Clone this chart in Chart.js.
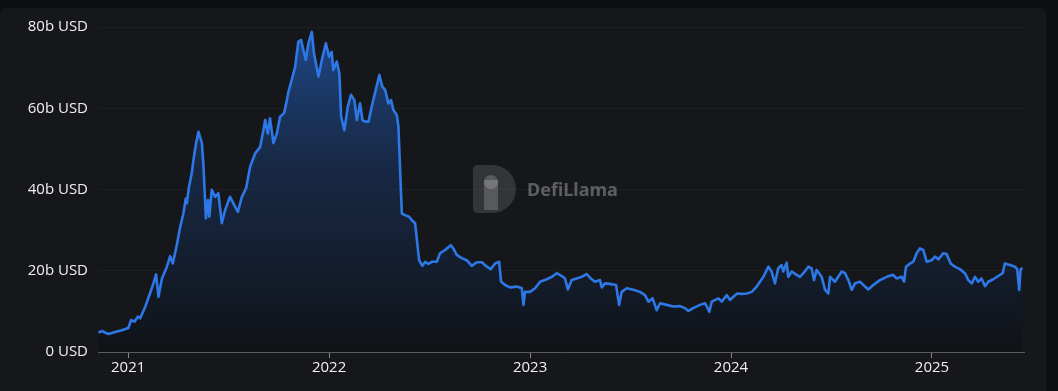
<!DOCTYPE html>
<html>
<head>
<meta charset="utf-8">
<script src="https://cdn.jsdelivr.net/npm/chart.js@4"></script>
<style>
  html, body { margin: 0; padding: 0; background: #0e0f11; overflow: hidden; }
  #card { position: absolute; left: 0; top: 8px; width: 1046px; height: 383px; background: #16171a; border-radius: 6px 6px 0 0; }
  #wrap { position: absolute; left: 0; top: 0; width: 1058px; height: 391px; }
</style>
</head>
<body>
<div id="card"></div>
<div id="wrap"><canvas id="tvlChart" width="1058" height="391"></canvas></div>
<script>
// dates as decimal years, values in billions USD
const dates = [
  2020.852, 2020.869, 2020.886, 2020.902, 2020.935, 2020.969, 2021.001, 2021.015, 2021.031, 2021.048,
  2021.060, 2021.085, 2021.109, 2021.126, 2021.139, 2021.151, 2021.168, 2021.193, 2021.209, 2021.222,
  2021.242, 2021.259, 2021.275, 2021.287, 2021.292, 2021.303, 2021.317, 2021.325, 2021.338, 2021.350,
  2021.367, 2021.375, 2021.387, 2021.397, 2021.404, 2021.416, 2021.433, 2021.449, 2021.466, 2021.483,
  2021.507, 2021.532, 2021.546, 2021.566, 2021.587, 2021.607, 2021.632, 2021.657, 2021.670, 2021.682,
  2021.695, 2021.706, 2021.723, 2021.740, 2021.756, 2021.776, 2021.790, 2021.798, 2021.814, 2021.831,
  2021.847, 2021.861, 2021.872, 2021.884, 2021.897, 2021.914, 2021.925, 2021.947, 2021.964, 2021.984,
  2022.000, 2022.013, 2022.021, 2022.038, 2022.051, 2022.060, 2022.076, 2022.093, 2022.109, 2022.126,
  2022.138, 2022.154, 2022.166, 2022.179, 2022.196, 2022.212, 2022.232, 2022.250, 2022.265, 2022.279,
  2022.295, 2022.308, 2022.320, 2022.337, 2022.345, 2022.362, 2022.378, 2022.398, 2022.411, 2022.428,
  2022.448, 2022.464, 2022.478, 2022.494, 2022.511, 2022.536, 2022.552, 2022.577, 2022.606, 2022.618,
  2022.635, 2022.660, 2022.685, 2022.710, 2022.735, 2022.760, 2022.785, 2022.804, 2022.826, 2022.846,
  2022.856, 2022.876, 2022.900, 2022.934, 2022.959, 2022.967, 2022.975, 2023.000, 2023.025, 2023.050,
  2023.083, 2023.108, 2023.133, 2023.158, 2023.174, 2023.188, 2023.207, 2023.232, 2023.257, 2023.282,
  2023.302, 2023.323, 2023.348, 2023.357, 2023.373, 2023.406, 2023.428, 2023.443, 2023.456, 2023.481,
  2023.514, 2023.547, 2023.572, 2023.589, 2023.610, 2023.630, 2023.647, 2023.680, 2023.713, 2023.746,
  2023.771, 2023.788, 2023.812, 2023.846, 2023.871, 2023.892, 2023.904, 2023.937, 2023.954, 2023.979,
  2023.995, 2024.012, 2024.031, 2024.053, 2024.078, 2024.103, 2024.128, 2024.161, 2024.186, 2024.202,
  2024.219, 2024.235, 2024.252, 2024.260, 2024.277, 2024.285, 2024.302, 2024.327, 2024.343, 2024.360,
  2024.385, 2024.401, 2024.413, 2024.426, 2024.451, 2024.468, 2024.484, 2024.493, 2024.517, 2024.551,
  2024.567, 2024.584, 2024.601, 2024.617, 2024.642, 2024.667, 2024.683, 2024.708, 2024.741, 2024.775,
  2024.807, 2024.824, 2024.849, 2024.861, 2024.871, 2024.891, 2024.907, 2024.924, 2024.940, 2024.957,
  2024.974, 2024.999, 2025.015, 2025.032, 2025.056, 2025.073, 2025.093, 2025.114, 2025.139, 2025.164,
  2025.181, 2025.198, 2025.214, 2025.230, 2025.247, 2025.264, 2025.280, 2025.305, 2025.330, 2025.352,
  2025.363, 2025.388, 2025.413, 2025.424, 2025.434, 2025.441, 2025.451
];
const tvl = [
  4.75, 5.17, 4.75, 4.43, 4.92, 5.34, 5.91, 7.88, 7.46, 8.69,
  8.30, 11.15, 14.45, 16.9, 19.1, 13.6, 18.1, 21.0, 23.6, 21.8,
  26.3, 30.8, 34.1, 37.8, 36.6, 40.7, 44.1, 47.3, 51.4, 54.2,
  51.4, 45.6, 32.9, 37.4, 33.3, 39.9, 38.2, 39.1, 31.7, 35.0,
  38.2, 35.8, 34.5, 38.2, 40.3, 45.6, 48.9, 50.5, 53.8, 57.1,
  53.8, 57.5, 51.4, 53.8, 57.9, 58.8, 62.0, 64.1, 67.0, 70.2,
  76.4, 76.8, 74.3, 71.9, 76.0, 78.8, 73.5, 67.8, 71.9, 76.0,
  72.7, 73.9, 69.4, 71.5, 68.6, 57.9, 54.6, 60.4, 63.3, 62.0,
  57.1, 61.2, 57.1, 56.7, 56.7, 60.4, 64.5, 68.2, 65.3, 64.5,
  61.2, 62.0, 59.6, 58.3, 55.5, 34.1, 33.7, 33.3, 32.5, 31.7,
  22.6, 21.2, 22.2, 21.7, 22.2, 22.2, 24.3, 25.1, 26.3, 25.5,
  23.9, 23.1, 22.6, 21.2, 22.1, 22.1, 21.0, 20.4, 21.8, 22.2,
  17.3, 16.5, 15.9, 16.1, 15.7, 11.6, 14.8, 14.8, 15.7, 17.3,
  17.9, 18.5, 19.4, 18.7, 18.1, 15.4, 17.7, 18.1, 18.5, 19.2,
  18.1, 17.3, 17.7, 15.9, 16.9, 16.7, 16.5, 11.6, 14.8, 15.7,
  15.3, 14.8, 14.0, 12.4, 13.2, 10.3, 12.0, 11.6, 11.2, 11.3,
  10.8, 10.1, 10.8, 11.6, 12.0, 9.9, 12.4, 13.2, 12.4, 14.0,
  12.8, 13.6, 14.4, 14.3, 14.4, 14.8, 16.1, 18.5, 21.0, 19.8,
  16.9, 20.6, 21.4, 19.8, 22.0, 18.5, 19.8, 19.0, 18.5, 19.4,
  21.0, 20.6, 17.7, 20.2, 18.5, 15.3, 14.4, 18.5, 17.3, 19.8,
  19.4, 17.7, 15.3, 16.9, 17.3, 16.1, 15.4, 16.5, 17.7, 18.5,
  19.0, 18.1, 18.5, 17.3, 21.0, 21.8, 22.2, 24.3, 25.5, 25.1,
  22.2, 22.6, 23.5, 22.8, 24.3, 24.1, 21.8, 21.0, 20.4, 19.4,
  17.7, 16.9, 18.5, 17.3, 18.1, 16.2, 17.3, 17.9, 18.7, 19.4,
  21.8, 21.4, 21.0, 20.4, 15.3, 20.4, 20.6
];
const yearTicks = [2021, 2022, 2023, 2024, 2025];
const yTicks = [0, 20, 40, 60, 80];

const points = dates.map((d, i) => ({ x: d, y: tvl[i] }));

// marca d'água DefiLlama no meio do gráfico
const watermark = {
  id: 'watermark',
  beforeDatasetsDraw(chart) {
    const c = chart.ctx;
    c.save();
    c.fillStyle = 'rgba(255,255,255,0.13)';
    c.beginPath();
    c.moveTo(478, 165);
    c.lineTo(492, 165);
    c.arc(492, 189, 24, -Math.PI / 2, Math.PI / 2);
    c.lineTo(478, 213);
    c.quadraticCurveTo(473, 213, 473, 208);
    c.lineTo(473, 170);
    c.quadraticCurveTo(473, 165, 478, 165);
    c.fill();
    c.fillStyle = 'rgba(255,255,255,0.18)';
    c.fillRect(484, 180, 14, 30);
    c.beginPath();
    c.arc(491, 182, 7, 0, Math.PI * 2);
    c.fill();
    c.fillStyle = 'rgba(255,255,255,0.3)';
    c.font = 'bold 18px "Noto Sans", sans-serif';
    c.textBaseline = 'middle';
    c.fillText('DefiLlama', 527, 191);
    c.restore();
  }
};

new Chart(document.getElementById('tvlChart'), {
  type: 'line',
  data: {
    datasets: [{
      data: points,
      borderColor: '#2d78e6',
      borderWidth: 2.6,
      borderJoinStyle: 'round',
      pointRadius: 0,
      tension: 0,
      fill: 'origin',
      backgroundColor: (context) => {
        const area = context.chart.chartArea;
        if (!area) return 'rgba(33,114,229,0.3)';
        const g = context.chart.ctx.createLinearGradient(0, area.top, 0, area.bottom);
        g.addColorStop(0, 'rgba(38,105,210,0.62)');
        g.addColorStop(0.45, 'rgba(25,60,115,0.45)');
        g.addColorStop(1, 'rgba(12,14,18,0.6)');
        return g;
      }
    }]
  },
  options: {
    responsive: false,
    animation: false,
    layout: { padding: { top: 27, right: 34, left: 0, bottom: 0 } },
    plugins: { legend: { display: false }, tooltip: { enabled: false } },
    scales: {
      x: {
        type: 'linear',
        min: 2020.85,
        max: 2025.458,
        afterBuildTicks: (scale) => { scale.ticks = yearTicks.map(v => ({ value: v })); },
        afterFit: (scale) => { scale.height = 39; },
        ticks: {
          color: '#f0f0f0',
          font: { family: '"Open Sans", "Noto Sans", sans-serif', size: 15 },
          padding: 1,
          maxRotation: 0,
          callback: (v) => String(v)
        },
        grid: { display: true, drawOnChartArea: false, drawTicks: true, tickLength: 6, color: '#8a8a8a' },
        border: { display: true, color: '#5a5b5e', width: 1 }
      },
      y: {
        min: 0,
        max: 80,
        afterBuildTicks: (scale) => { scale.ticks = yTicks.map(v => ({ value: v })); },
        afterFit: (scale) => { scale.width = 98; },
        ticks: {
          color: '#f0f0f0',
          font: { family: '"Open Sans", "Noto Sans", sans-serif', size: 15 },
          padding: 10,
          callback: (v) => v === 0 ? '0 USD' : v + 'b USD'
        },
        grid: { color: 'rgba(255,255,255,0.035)', drawTicks: false },
        border: { display: false }
      }
    }
  },
  plugins: [watermark]
});
</script>
</body>
</html>
